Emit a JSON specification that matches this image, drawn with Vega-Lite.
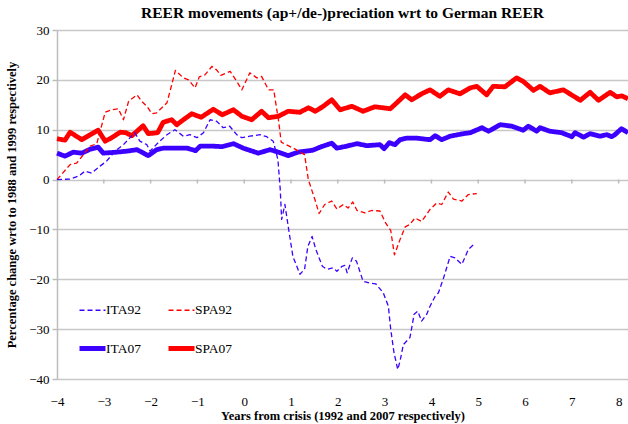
{
"$schema": "https://vega.github.io/schema/vega-lite/v6.json",
"width": 571, "height": 349,
"autosize": {"type": "none"},
"padding": {"left": 57, "top": 30, "right": 0, "bottom": 45},
"background": "white",
"title": {"text": "REER movements (ap+/de-)preciation wrt to German REER", "font": "Liberation Serif", "fontSize": 15.5, "fontWeight": "bold", "color": "#000", "frame": "group", "anchor": "middle", "offset": 3},
"config": {"view": {"stroke": null}},
"datasets": {
"ticks": [{"x": -3}, {"x": -2}, {"x": -1}, {"x": 0}, {"x": 1}, {"x": 2}, {"x": 3}, {"x": 4}, {"x": 5}, {"x": 6}, {"x": 7}, {"x": 8}],
"series": [
{"s":"SPA07","x":-4.0,"v":8.2},{"s":"SPA07","x":-3.83,"v":7.9},{"s":"SPA07","x":-3.72,"v":9.5},{"s":"SPA07","x":-3.47,"v":8.0},{"s":"SPA07","x":-3.29,"v":9.0},{"s":"SPA07","x":-3.12,"v":9.9},{"s":"SPA07","x":-2.97,"v":7.7},{"s":"SPA07","x":-2.83,"v":8.4},{"s":"SPA07","x":-2.65,"v":9.5},{"s":"SPA07","x":-2.53,"v":9.4},{"s":"SPA07","x":-2.40,"v":8.8},{"s":"SPA07","x":-2.16,"v":10.8},{"s":"SPA07","x":-2.05,"v":9.2},{"s":"SPA07","x":-1.85,"v":9.4},{"s":"SPA07","x":-1.73,"v":11.5},{"s":"SPA07","x":-1.55,"v":12.0},{"s":"SPA07","x":-1.44,"v":11.0},{"s":"SPA07","x":-1.30,"v":12.0},{"s":"SPA07","x":-1.12,"v":13.2},{"s":"SPA07","x":-0.92,"v":12.5},{"s":"SPA07","x":-0.66,"v":14.1},{"s":"SPA07","x":-0.47,"v":13.0},{"s":"SPA07","x":-0.23,"v":14.0},{"s":"SPA07","x":-0.05,"v":12.7},{"s":"SPA07","x":0.16,"v":12.0},{"s":"SPA07","x":0.37,"v":13.7},{"s":"SPA07","x":0.52,"v":12.4},{"s":"SPA07","x":0.73,"v":12.7},{"s":"SPA07","x":0.94,"v":13.7},{"s":"SPA07","x":1.19,"v":13.5},{"s":"SPA07","x":1.37,"v":14.4},{"s":"SPA07","x":1.52,"v":13.7},{"s":"SPA07","x":1.69,"v":14.7},{"s":"SPA07","x":1.87,"v":16.0},{"s":"SPA07","x":2.05,"v":14.0},{"s":"SPA07","x":2.30,"v":14.7},{"s":"SPA07","x":2.54,"v":13.7},{"s":"SPA07","x":2.79,"v":14.6},{"s":"SPA07","x":2.97,"v":14.4},{"s":"SPA07","x":3.12,"v":14.2},{"s":"SPA07","x":3.26,"v":15.4},{"s":"SPA07","x":3.44,"v":17.0},{"s":"SPA07","x":3.58,"v":16.0},{"s":"SPA07","x":3.79,"v":17.2},{"s":"SPA07","x":3.97,"v":18.0},{"s":"SPA07","x":4.18,"v":16.7},{"s":"SPA07","x":4.36,"v":18.0},{"s":"SPA07","x":4.61,"v":17.2},{"s":"SPA07","x":4.83,"v":18.4},{"s":"SPA07","x":4.97,"v":18.7},{"s":"SPA07","x":5.18,"v":17.0},{"s":"SPA07","x":5.32,"v":18.7},{"s":"SPA07","x":5.57,"v":18.6},{"s":"SPA07","x":5.82,"v":20.4},{"s":"SPA07","x":5.96,"v":19.7},{"s":"SPA07","x":6.18,"v":17.9},{"s":"SPA07","x":6.32,"v":18.7},{"s":"SPA07","x":6.53,"v":17.4},{"s":"SPA07","x":6.82,"v":18.0},{"s":"SPA07","x":7.18,"v":15.9},{"s":"SPA07","x":7.39,"v":17.5},{"s":"SPA07","x":7.57,"v":15.9},{"s":"SPA07","x":7.82,"v":17.5},{"s":"SPA07","x":7.96,"v":16.6},{"s":"SPA07","x":8.07,"v":16.8},{"s":"SPA07","x":8.2,"v":16.2},
{"s":"ITA07","x":-4.0,"v":5.3},{"s":"ITA07","x":-3.83,"v":4.7},{"s":"ITA07","x":-3.65,"v":5.5},{"s":"ITA07","x":-3.47,"v":5.3},{"s":"ITA07","x":-3.29,"v":6.1},{"s":"ITA07","x":-3.12,"v":6.5},{"s":"ITA07","x":-3.01,"v":5.3},{"s":"ITA07","x":-2.72,"v":5.5},{"s":"ITA07","x":-2.51,"v":5.7},{"s":"ITA07","x":-2.29,"v":6.0},{"s":"ITA07","x":-2.05,"v":4.8},{"s":"ITA07","x":-1.87,"v":6.0},{"s":"ITA07","x":-1.73,"v":6.3},{"s":"ITA07","x":-1.51,"v":6.3},{"s":"ITA07","x":-1.22,"v":6.3},{"s":"ITA07","x":-1.04,"v":5.8},{"s":"ITA07","x":-0.94,"v":6.7},{"s":"ITA07","x":-0.66,"v":6.7},{"s":"ITA07","x":-0.47,"v":6.6},{"s":"ITA07","x":-0.23,"v":7.2},{"s":"ITA07","x":-0.02,"v":6.3},{"s":"ITA07","x":0.30,"v":5.3},{"s":"ITA07","x":0.55,"v":6.0},{"s":"ITA07","x":0.73,"v":5.5},{"s":"ITA07","x":0.94,"v":4.8},{"s":"ITA07","x":1.15,"v":5.5},{"s":"ITA07","x":1.47,"v":5.9},{"s":"ITA07","x":1.62,"v":6.5},{"s":"ITA07","x":1.87,"v":7.3},{"s":"ITA07","x":1.98,"v":6.3},{"s":"ITA07","x":2.19,"v":6.7},{"s":"ITA07","x":2.41,"v":7.2},{"s":"ITA07","x":2.62,"v":6.8},{"s":"ITA07","x":2.90,"v":7.0},{"s":"ITA07","x":2.99,"v":6.2},{"s":"ITA07","x":3.10,"v":7.4},{"s":"ITA07","x":3.22,"v":7.0},{"s":"ITA07","x":3.33,"v":8.0},{"s":"ITA07","x":3.47,"v":8.3},{"s":"ITA07","x":3.69,"v":8.3},{"s":"ITA07","x":3.97,"v":8.0},{"s":"ITA07","x":4.08,"v":8.8},{"s":"ITA07","x":4.22,"v":8.0},{"s":"ITA07","x":4.40,"v":8.7},{"s":"ITA07","x":4.68,"v":9.2},{"s":"ITA07","x":4.83,"v":9.4},{"s":"ITA07","x":5.08,"v":10.4},{"s":"ITA07","x":5.22,"v":9.7},{"s":"ITA07","x":5.47,"v":11.0},{"s":"ITA07","x":5.72,"v":10.7},{"s":"ITA07","x":5.96,"v":9.9},{"s":"ITA07","x":6.07,"v":10.7},{"s":"ITA07","x":6.25,"v":9.7},{"s":"ITA07","x":6.32,"v":10.4},{"s":"ITA07","x":6.53,"v":9.7},{"s":"ITA07","x":6.78,"v":9.4},{"s":"ITA07","x":7.00,"v":8.6},{"s":"ITA07","x":7.07,"v":9.4},{"s":"ITA07","x":7.25,"v":8.5},{"s":"ITA07","x":7.39,"v":9.2},{"s":"ITA07","x":7.60,"v":8.7},{"s":"ITA07","x":7.75,"v":9.0},{"s":"ITA07","x":7.85,"v":8.6},{"s":"ITA07","x":7.92,"v":9.0},{"s":"ITA07","x":8.06,"v":10.2},{"s":"ITA07","x":8.2,"v":9.4},
{"s":"SPA92","x":-4.0,"v":0},{"s":"SPA92","x":-3.72,"v":3.0},{"s":"SPA92","x":-3.58,"v":3.3},{"s":"SPA92","x":-3.29,"v":6.7},{"s":"SPA92","x":-3.15,"v":7.2},{"s":"SPA92","x":-2.97,"v":13.5},{"s":"SPA92","x":-2.83,"v":14.0},{"s":"SPA92","x":-2.69,"v":14.2},{"s":"SPA92","x":-2.58,"v":12.0},{"s":"SPA92","x":-2.47,"v":15.7},{"s":"SPA92","x":-2.29,"v":17.0},{"s":"SPA92","x":-2.19,"v":15.7},{"s":"SPA92","x":-2.08,"v":14.7},{"s":"SPA92","x":-1.97,"v":13.2},{"s":"SPA92","x":-1.87,"v":13.4},{"s":"SPA92","x":-1.65,"v":15.4},{"s":"SPA92","x":-1.47,"v":21.9},{"s":"SPA92","x":-1.30,"v":20.4},{"s":"SPA92","x":-1.19,"v":20.0},{"s":"SPA92","x":-1.05,"v":18.4},{"s":"SPA92","x":-0.96,"v":20.6},{"s":"SPA92","x":-0.84,"v":21.0},{"s":"SPA92","x":-0.69,"v":22.7},{"s":"SPA92","x":-0.59,"v":22.0},{"s":"SPA92","x":-0.50,"v":20.9},{"s":"SPA92","x":-0.30,"v":21.7},{"s":"SPA92","x":-0.18,"v":20.0},{"s":"SPA92","x":-0.05,"v":18.0},{"s":"SPA92","x":0.12,"v":21.4},{"s":"SPA92","x":0.27,"v":20.4},{"s":"SPA92","x":0.37,"v":20.7},{"s":"SPA92","x":0.52,"v":18.0},{"s":"SPA92","x":0.63,"v":18.0},{"s":"SPA92","x":0.74,"v":11.4},{"s":"SPA92","x":0.79,"v":7.5},{"s":"SPA92","x":0.94,"v":6.8},{"s":"SPA92","x":1.05,"v":6.3},{"s":"SPA92","x":1.29,"v":5.0},{"s":"SPA92","x":1.37,"v":0},{"s":"SPA92","x":1.51,"v":-4.0},{"s":"SPA92","x":1.60,"v":-6.8},{"s":"SPA92","x":1.72,"v":-5.0},{"s":"SPA92","x":1.87,"v":-4.3},{"s":"SPA92","x":1.98,"v":-5.9},{"s":"SPA92","x":2.12,"v":-5.0},{"s":"SPA92","x":2.22,"v":-5.7},{"s":"SPA92","x":2.32,"v":-4.5},{"s":"SPA92","x":2.41,"v":-6.2},{"s":"SPA92","x":2.58,"v":-6.7},{"s":"SPA92","x":2.72,"v":-6.2},{"s":"SPA92","x":2.90,"v":-6.3},{"s":"SPA92","x":3.02,"v":-8.7},{"s":"SPA92","x":3.13,"v":-10.2},{"s":"SPA92","x":3.21,"v":-15.1},{"s":"SPA92","x":3.33,"v":-12.0},{"s":"SPA92","x":3.44,"v":-9.5},{"s":"SPA92","x":3.54,"v":-9.0},{"s":"SPA92","x":3.65,"v":-7.7},{"s":"SPA92","x":3.79,"v":-8.4},{"s":"SPA92","x":3.97,"v":-6.0},{"s":"SPA92","x":4.11,"v":-4.7},{"s":"SPA92","x":4.22,"v":-5.0},{"s":"SPA92","x":4.36,"v":-2.5},{"s":"SPA92","x":4.47,"v":-3.9},{"s":"SPA92","x":4.65,"v":-4.3},{"s":"SPA92","x":4.79,"v":-3.0},{"s":"SPA92","x":4.97,"v":-2.8},
{"s":"ITA92","x":-4.0,"v":0},{"s":"ITA92","x":-3.72,"v":0.1},{"s":"ITA92","x":-3.54,"v":0.7},{"s":"ITA92","x":-3.40,"v":1.7},{"s":"ITA92","x":-3.26,"v":1.3},{"s":"ITA92","x":-3.08,"v":2.7},{"s":"ITA92","x":-2.94,"v":3.7},{"s":"ITA92","x":-2.76,"v":5.7},{"s":"ITA92","x":-2.58,"v":7.0},{"s":"ITA92","x":-2.34,"v":9.4},{"s":"ITA92","x":-2.23,"v":7.7},{"s":"ITA92","x":-2.08,"v":7.0},{"s":"ITA92","x":-2.01,"v":5.7},{"s":"ITA92","x":-1.84,"v":7.4},{"s":"ITA92","x":-1.65,"v":9.0},{"s":"ITA92","x":-1.48,"v":10.0},{"s":"ITA92","x":-1.30,"v":8.7},{"s":"ITA92","x":-1.16,"v":9.0},{"s":"ITA92","x":-1.01,"v":8.4},{"s":"ITA92","x":-0.87,"v":9.4},{"s":"ITA92","x":-0.73,"v":12.0},{"s":"ITA92","x":-0.59,"v":11.7},{"s":"ITA92","x":-0.45,"v":10.4},{"s":"ITA92","x":-0.31,"v":10.7},{"s":"ITA92","x":-0.16,"v":9.0},{"s":"ITA92","x":-0.05,"v":8.4},{"s":"ITA92","x":0.12,"v":8.7},{"s":"ITA92","x":0.34,"v":9.0},{"s":"ITA92","x":0.48,"v":8.6},{"s":"ITA92","x":0.62,"v":7.7},{"s":"ITA92","x":0.72,"v":4.0},{"s":"ITA92","x":0.77,"v":-2.0},{"s":"ITA92","x":0.80,"v":-8.0},{"s":"ITA92","x":0.87,"v":-5.0},{"s":"ITA92","x":0.94,"v":-9.4},{"s":"ITA92","x":1.04,"v":-15.4},{"s":"ITA92","x":1.19,"v":-19.0},{"s":"ITA92","x":1.29,"v":-18.0},{"s":"ITA92","x":1.36,"v":-13.4},{"s":"ITA92","x":1.45,"v":-11.4},{"s":"ITA92","x":1.53,"v":-14.0},{"s":"ITA92","x":1.67,"v":-17.4},{"s":"ITA92","x":1.77,"v":-18.0},{"s":"ITA92","x":1.90,"v":-17.7},{"s":"ITA92","x":1.98,"v":-18.4},{"s":"ITA92","x":2.09,"v":-17.4},{"s":"ITA92","x":2.15,"v":-17.2},{"s":"ITA92","x":2.20,"v":-18.7},{"s":"ITA92","x":2.31,"v":-15.7},{"s":"ITA92","x":2.40,"v":-16.4},{"s":"ITA92","x":2.54,"v":-20.4},{"s":"ITA92","x":2.69,"v":-20.8},{"s":"ITA92","x":2.81,"v":-20.9},{"s":"ITA92","x":2.97,"v":-22.7},{"s":"ITA92","x":3.08,"v":-25.4},{"s":"ITA92","x":3.13,"v":-30.0},{"s":"ITA92","x":3.20,"v":-34.7},{"s":"ITA92","x":3.28,"v":-38.1},{"s":"ITA92","x":3.33,"v":-36.4},{"s":"ITA92","x":3.40,"v":-33.1},{"s":"ITA92","x":3.54,"v":-31.7},{"s":"ITA92","x":3.58,"v":-29.7},{"s":"ITA92","x":3.63,"v":-27.0},{"s":"ITA92","x":3.71,"v":-26.4},{"s":"ITA92","x":3.79,"v":-28.4},{"s":"ITA92","x":3.90,"v":-27.0},{"s":"ITA92","x":3.97,"v":-25.4},{"s":"ITA92","x":4.08,"v":-23.4},{"s":"ITA92","x":4.15,"v":-22.7},{"s":"ITA92","x":4.26,"v":-19.7},{"s":"ITA92","x":4.40,"v":-15.4},{"s":"ITA92","x":4.50,"v":-15.7},{"s":"ITA92","x":4.65,"v":-17.0},{"s":"ITA92","x":4.79,"v":-14.0},{"s":"ITA92","x":4.93,"v":-12.8}
]},
"encoding": {
"x": {"field": "x", "type": "quantitative",
 "scale": {"domain": [-4, 8.2], "nice": false, "zero": false},
 "axis": {"values": [-4,-3,-2,-1,0,1,2,3,4,5,6,7,8], "tickSize": 0, "domain": false, "grid": false, "labelPadding": 16, "labelFlush": false, "labelFont": "Liberation Serif", "labelFontSize": 13, "labelColor": "#000", "title": "Years from crisis (1992 and 2007 respectively)", "titleFont": "Liberation Serif", "titleFontSize": 12.5, "titleFontWeight": "bold", "titleColor": "#000", "titlePadding": 1}}
},
"layer": [
{"data": {"name": "series"},
 "mark": {"type": "line", "strokeJoin": "round"},
 "encoding": {
  "y": {"field": "v", "type": "quantitative",
   "scale": {"domain": [-40, 30], "nice": false, "zero": false},
   "axis": {"values": [-40,-30,-20,-10,0,10,20,30], "grid": true, "gridColor": "#c8c8c8", "gridWidth": 1.5, "domainColor": "#bdbdbd", "domainWidth": 1.5, "tickColor": "#bdbdbd", "tickWidth": 1.5, "tickSize": 5, "labelPadding": 3, "labelFont": "Liberation Serif", "labelFontSize": 13, "labelColor": "#000", "title": "Percentage change wrto to 1988 and 1999 respectively", "titleFont": "Liberation Serif", "titleFontSize": 12.5, "titleFontWeight": "bold", "titleColor": "#000", "titlePadding": 10}},
  "color": {"field": "s", "type": "nominal", "scale": {"domain": ["ITA92","SPA92","ITA07","SPA07"], "range": ["#3c00ff","#ff0000","#3c00ff","#ff0000"]},
   "legend": {"orient": "none", "legendX": 20, "legendY": 266, "direction": "horizontal", "columns": 2, "title": null, "symbolType": "stroke", "symbolSize": 676, "labelOffset": -2, "columnPadding": 17, "rowPadding": 16, "labelFont": "Liberation Serif", "labelFontSize": 13.5, "labelColor": "#000"}},
  "strokeDash": {"field": "s", "type": "nominal", "scale": {"domain": ["ITA92","SPA92","ITA07","SPA07"], "range": [[5,3],[5,3],[1,0],[1,0]]},
   "legend": {"orient": "none", "legendX": 20, "legendY": 266, "direction": "horizontal", "columns": 2, "title": null, "symbolType": "stroke", "symbolSize": 676, "labelOffset": -2, "columnPadding": 17, "rowPadding": 16, "labelFont": "Liberation Serif", "labelFontSize": 13.5, "labelColor": "#000"}},
  "strokeWidth": {"field": "s", "type": "nominal", "scale": {"type": "ordinal", "domain": ["ITA92","SPA92","ITA07","SPA07"], "range": [1.3,1.3,4.8,4.8]},
   "legend": {"orient": "none", "legendX": 20, "legendY": 266, "direction": "horizontal", "columns": 2, "title": null, "symbolType": "stroke", "symbolSize": 676, "labelOffset": -2, "columnPadding": 17, "rowPadding": 16, "labelFont": "Liberation Serif", "labelFontSize": 13.5, "labelColor": "#000"}}
 }},
{"data": {"name": "ticks"},
 "mark": {"type": "rule", "color": "#bdbdbd", "strokeWidth": 1.5},
 "encoding": {
  "y": {"datum": 0, "type": "quantitative", "title": "Percentage change wrto to 1988 and 1999 respectively"},
  "y2": {"datum": -0.8}
 }}
]
}
